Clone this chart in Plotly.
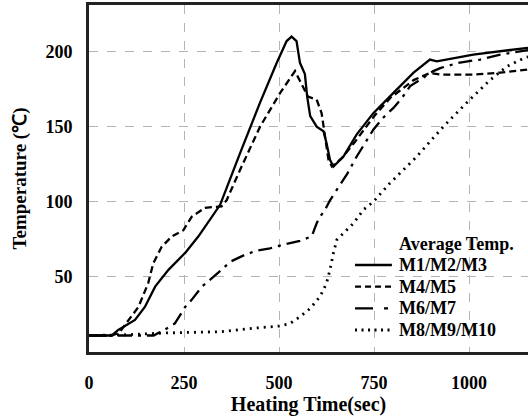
import plotly.graph_objects as go

# Heating time (sec) and average temperature (°C) for each thermocouple group
t_m1 = [0, 60, 77, 121, 147, 174, 209, 253, 288, 323, 345, 397, 450, 494, 520, 533, 546, 555, 568,
        574, 582, 599, 617, 625, 634, 643, 669, 704, 748, 801, 854, 897, 915, 1011, 1082, 1155]
T_m1 = [11, 11, 14.7, 21.3, 30, 43.5, 54.7, 66, 77, 90, 98, 132, 166, 192.5, 207, 210, 207, 192.5, 185,
        170, 157, 150, 147, 139, 128, 123.5, 130, 144.7, 159, 172.5, 186, 194.7, 193.5, 198, 200, 202.5]

t_m4 = [0, 60, 80, 95, 130, 156, 169, 191, 218, 248, 270, 305, 349, 362, 397, 450, 503, 542, 559,
        576, 599, 612, 621, 630, 639, 665, 700, 750, 792, 854, 897, 924, 1011, 1082, 1155]
T_m4 = [11, 11, 13, 18, 30, 46, 59, 70, 77, 81, 90, 96, 97, 101, 121, 150, 172.5, 187, 179,
        170, 168, 159, 143.5, 128, 123.5, 129, 140, 157, 169, 181, 185.7, 184.7, 184.7, 186, 188]

t_m6 = [0, 100, 170, 200, 226, 253, 270, 297, 323, 349, 371, 410, 441, 476, 520, 555, 586, 599,
        608, 621, 634, 660, 678, 704, 748, 774, 801, 823, 845, 906, 924, 972, 1029, 1082, 1134, 1155]
T_m6 = [11, 11, 11, 15, 19, 30, 34.7, 43.5, 49, 54.7, 60, 64.7, 67.5, 69, 72, 74, 77, 85.7,
        90, 94.7, 101, 111, 118, 130, 148, 156, 162.5, 169, 177, 187, 189, 192.5, 194.7, 198, 200, 201]

t_m8 = [0, 100, 204, 345, 432, 503, 529, 555, 582, 608, 625, 634, 643, 652, 669, 696, 722, 748,
        792, 862, 932, 994, 1055, 1099, 1147, 1155]
T_m8 = [11, 11.5, 12.7, 13.5, 15.8, 17.3, 19, 23.5, 29, 37, 45.8, 54.7, 65.8, 74.7, 79, 85.7, 94.7, 100,
        112.5, 130, 150, 166, 181, 190, 196, 196.5]

names = ["M1/M2/M3", "M4/M5", "M6/M7", "M8/M9/M10"]
legend_title = "Average Temp."
x_ticks = [0, 250, 500, 750, 1000]
y_ticks = [50, 100, 150, 200]

serif = "Liberation Serif"
bold = dict(family=serif, color="black", weight="bold")

# (line width, dash on the curve, dash on the key sample)
styles = [
    (2.3, "solid", "solid"),
    (2.3, "7px,4px", "6px,4px"),
    (2.3, "14px,6px,3px,6px", "18px,11px,4px,20px"),
    (2.8, "2px,5px", "2px,4.5px"),
]

fig = go.Figure()
for (tx, ty), name, (w, dash, _) in zip([(t_m1, T_m1), (t_m4, T_m4), (t_m6, T_m6), (t_m8, T_m8)],
                                         names, styles):
    fig.add_trace(go.Scatter(x=tx, y=ty, mode="lines", name=name, showlegend=False,
                             line=dict(color="black", width=w, dash=dash)))

# Key drawn in paper coordinates inside the plot area
key_x0, key_x1, key_text_x = 0.606, 0.690, 0.702
key_rows = [0.2507, 0.1882, 0.1259, 0.0634]
fig.add_annotation(text=legend_title, xref="paper", yref="paper", x=key_text_x, y=0.3112,
                   xanchor="left", yanchor="middle", showarrow=False, font=dict(size=18, **bold))
for name, yk, (w, _, kdash) in zip(names, key_rows, styles):
    fig.add_shape(type="line", xref="paper", yref="paper", x0=key_x0, x1=key_x1, y0=yk, y1=yk,
                  line=dict(color="black", width=w, dash=kdash))
    fig.add_annotation(text=name, xref="paper", yref="paper", x=key_text_x, y=yk,
                       xanchor="left", yanchor="middle", showarrow=False, font=dict(size=18, **bold))

grid = dict(showgrid=True, gridcolor="#b4b4b4", griddash="dash", gridwidth=1, zeroline=False)

fig.update_xaxes(range=[0, 1155], tickvals=x_ticks, ticks="", ticklabelstandoff=12,
                 tickfont=dict(size=18, **bold), showline=True, linecolor="#222", linewidth=2.8,
                 mirror=True,
                 title=dict(text="Heating Time(sec)", font=dict(size=20, **bold), standoff=4),
                 **grid)
fig.update_yaxes(range=[0, 231], tickvals=y_ticks, ticks="", ticklabelstandoff=10,
                 tickfont=dict(size=18, **bold), showline=True, linecolor="#222", linewidth=2.8,
                 mirror=False,
                 title=dict(text="Temperature (℃)", font=dict(size=19, **bold), standoff=14),
                 **grid)

fig.update_layout(
    width=528, height=416,
    margin=dict(l=89, r=0, t=5, b=64),
    plot_bgcolor="white", paper_bgcolor="white",
    showlegend=False,
)

fig.write_html("out.html")
